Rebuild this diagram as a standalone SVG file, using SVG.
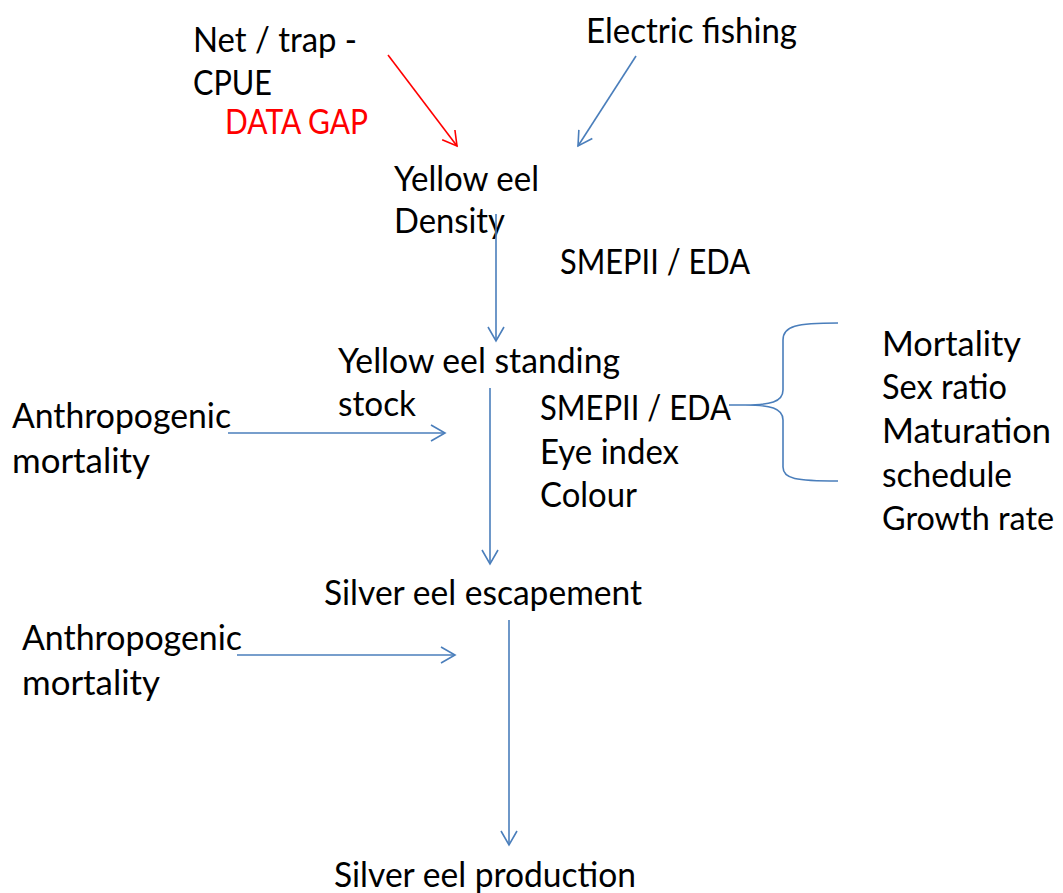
<svg xmlns="http://www.w3.org/2000/svg" width="1063" height="893" viewBox="0 0 1063 893">
<style>
text{font-family:Lato,"Liberation Sans",sans-serif;font-size:35px;fill:#000}
.red{fill:#ff0000}
.c{fill:none;stroke:#4a7ebb;stroke-width:1.6}
.cr{fill:none;stroke:#ff0000;stroke-width:1.6}
</style>
<defs>
<marker id="ab" markerUnits="userSpaceOnUse" markerWidth="30" markerHeight="30" refX="15" refY="10" orient="auto" viewBox="0 0 30 20">
<path d="M1,2 L15,10 L1,18" fill="none" stroke="#4a7ebb" stroke-width="1.6"/>
</marker>
<marker id="ar" markerUnits="userSpaceOnUse" markerWidth="30" markerHeight="30" refX="15" refY="10" orient="auto" viewBox="0 0 30 20">
<path d="M1,2 L15,10 L1,18" fill="none" stroke="#ff0000" stroke-width="1.6"/>
</marker>
</defs>
<g id="net"><text x="193" y="52" textLength="164" lengthAdjust="spacingAndGlyphs">Net / trap -</text><text x="193" y="95" textLength="79" lengthAdjust="spacingAndGlyphs">CPUE</text><text class="red" x="225" y="134" textLength="143" lengthAdjust="spacingAndGlyphs">DATA GAP</text></g>
<g id="electric"><text x="586" y="43" textLength="211" lengthAdjust="spacingAndGlyphs">Electric fishing</text></g>
<g id="density"><text x="394" y="191" textLength="145" lengthAdjust="spacingAndGlyphs">Yellow eel</text><text x="394" y="233" textLength="111" lengthAdjust="spacingAndGlyphs">Density</text></g>
<g id="smep1"><text x="560" y="274" textLength="190" lengthAdjust="spacingAndGlyphs">SMEPII / EDA</text></g>
<g id="standing"><text x="338" y="373" textLength="282" lengthAdjust="spacingAndGlyphs">Yellow eel standing</text><text x="338" y="416" textLength="78" lengthAdjust="spacingAndGlyphs">stock</text></g>
<g id="anthro1"><text x="12" y="428" textLength="219" lengthAdjust="spacingAndGlyphs">Anthropogenic</text><text x="12" y="473" textLength="138" lengthAdjust="spacingAndGlyphs">mortality</text></g>
<g id="smep2"><text x="540" y="420" textLength="191" lengthAdjust="spacingAndGlyphs">SMEPII / EDA</text><text x="540" y="464" textLength="139" lengthAdjust="spacingAndGlyphs">Eye index</text><text x="540" y="507" textLength="97" lengthAdjust="spacingAndGlyphs">Colour</text></g>
<g id="params"><text x="882" y="356" textLength="139" lengthAdjust="spacingAndGlyphs">Mortality</text><text x="882" y="399" textLength="125" lengthAdjust="spacingAndGlyphs">Sex ratio</text><text x="882" y="443" textLength="169" lengthAdjust="spacingAndGlyphs">Maturation</text><text x="882" y="487" textLength="130" lengthAdjust="spacingAndGlyphs">schedule</text><text x="882" y="530" style="font-size:33px" textLength="172" lengthAdjust="spacingAndGlyphs">Growth rate</text></g>
<g id="escapement"><text x="324" y="605" textLength="318" lengthAdjust="spacingAndGlyphs">Silver eel escapement</text></g>
<g id="anthro2"><text x="22" y="650" textLength="220" lengthAdjust="spacingAndGlyphs">Anthropogenic</text><text x="22" y="695" textLength="138" lengthAdjust="spacingAndGlyphs">mortality</text></g>
<g id="production"><text x="334" y="887" textLength="302" lengthAdjust="spacingAndGlyphs">Silver eel production</text></g>
<g id="connectors">
<line class="cr" x1="388" y1="55" x2="457" y2="146" marker-end="url(#ar)"/>
<line class="c" x1="636" y1="56" x2="578" y2="146" marker-end="url(#ab)"/>
<line class="c" x1="496" y1="214" x2="496" y2="341" marker-end="url(#ab)"/>
<line class="c" x1="228" y1="433" x2="445" y2="433" marker-end="url(#ab)"/>
<line class="c" x1="490" y1="388" x2="490" y2="564" marker-end="url(#ab)"/>
<line class="c" x1="237" y1="655" x2="455" y2="655" marker-end="url(#ab)"/>
<line class="c" x1="509" y1="620" x2="509" y2="845" marker-end="url(#ab)"/>
<path class="c" d="M729,405 L745,405 C770,405 783,402 783,390 L783,340 C783,326 796,323 838,323 M745,405 C770,405 783,408 783,420 L783,467 C783,479 796,481 838,481"/>
</g>
</svg>
